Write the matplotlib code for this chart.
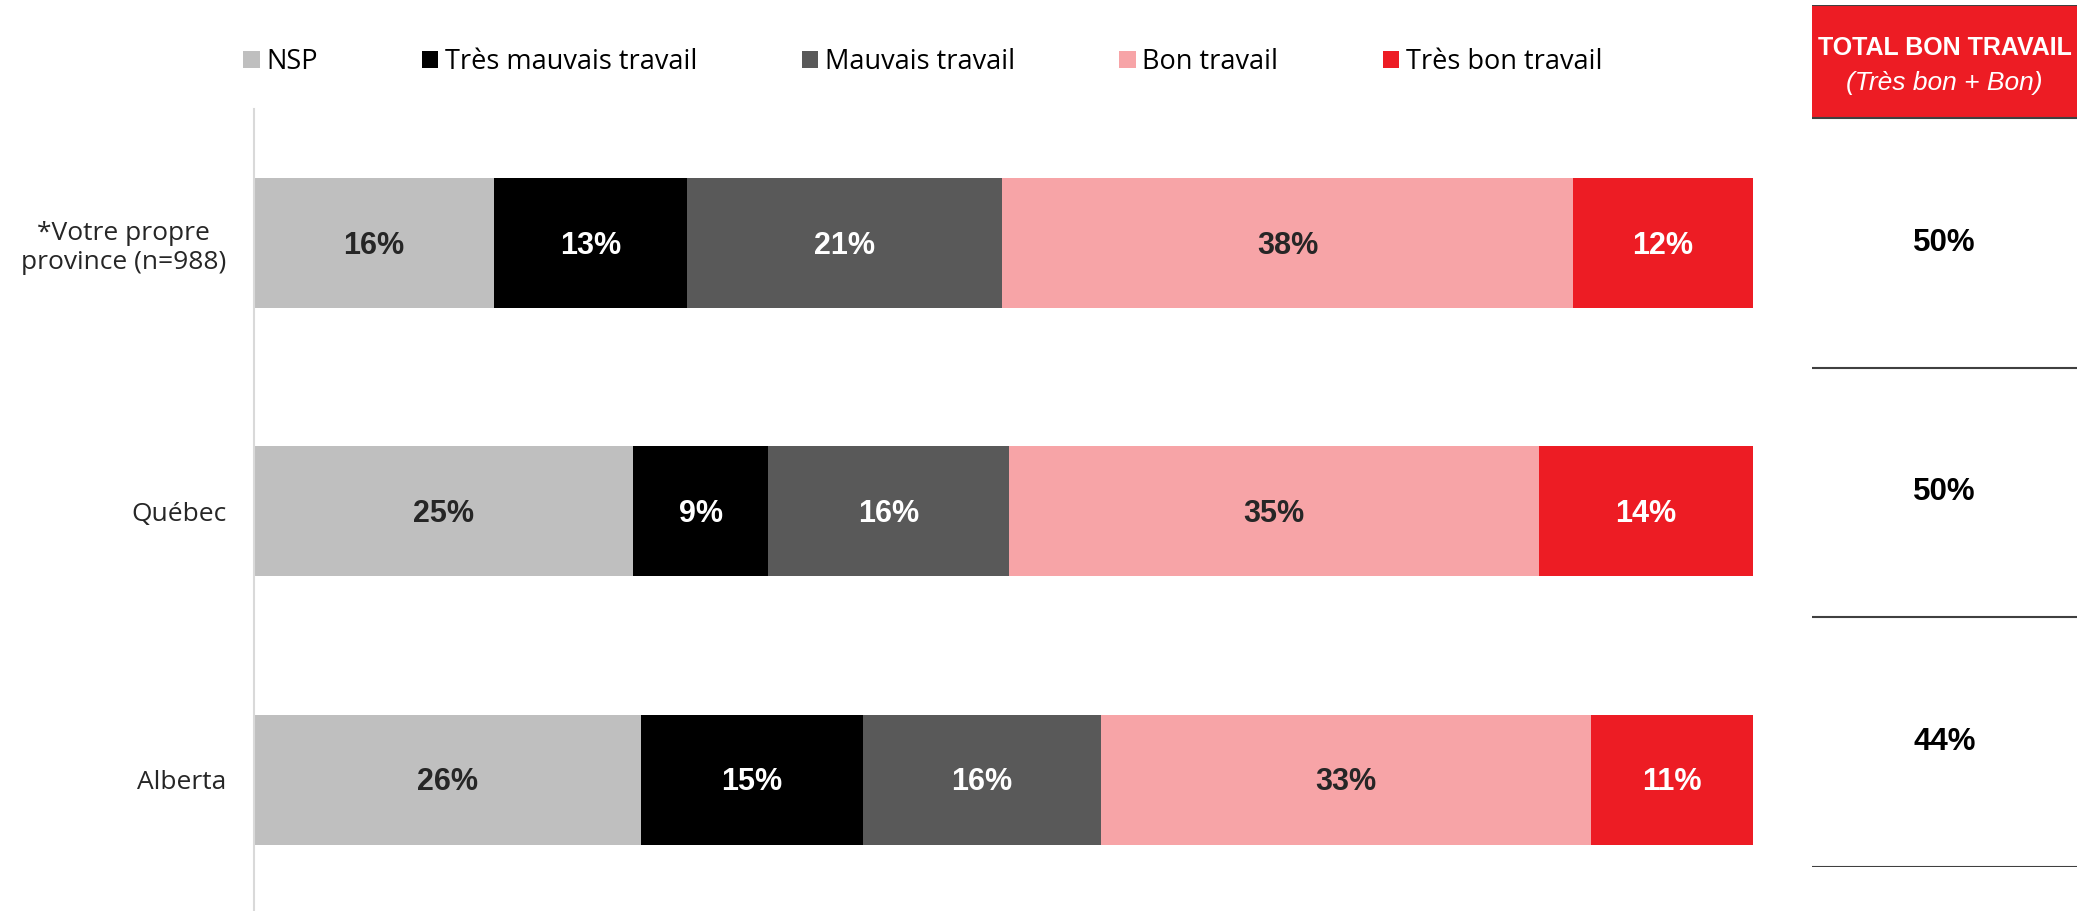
import matplotlib
matplotlib.use("Agg")
import matplotlib.pyplot as plt
from matplotlib.patches import Patch, Rectangle

categories = ["*Votre propre\nprovince (n=988)", "Québec", "Alberta"]
series_names = ["NSP", "Très mauvais travail", "Mauvais travail", "Bon travail", "Très bon travail"]
nsp = [16.0, 25.3, 25.8]
tres_mauvais = [12.9, 9.0, 14.8]
mauvais = [21.0, 16.1, 15.9]
bon = [38.1, 35.3, 32.7]
tres_bon = [12.0, 14.3, 10.8]
totals = [50, 50, 44]
total_header = "TOTAL BON TRAVAIL"
total_sub = "(Très bon + Bon)"

colors = ["#BFBFBF", "#000000", "#595959", "#F7A4A7", "#ED1C24"]
label_colors = ["#262626", "white", "white", "#262626", "white"]

W, H = 2082, 911
fig = plt.figure(figsize=(W / 100, H / 100), dpi=100)

ax = fig.add_axes([254 / W, 0, (1753 - 254) / W, 1 - 109 / H])
series = [nsp, tres_mauvais, mauvais, bon, tres_bon]
ypos = list(range(len(categories)))
left = [0.0] * len(categories)
handles = []
for name, vals, c, lc in zip(series_names, series, colors, label_colors):
    bars = ax.barh(ypos, vals, left=left, height=0.485, color=c, edgecolor="none")
    for b, v in zip(bars, vals):
        ax.text(b.get_x() + b.get_width() / 2, b.get_y() + b.get_height() / 2 + 0.01,
                f"{round(v):.0f}%", ha="center", va="center", color=lc,
                fontsize=22, fontweight="bold", family=["Liberation Sans", "DejaVu Sans"])
    left = [l + v for l, v in zip(left, vals)]
    handles.append(Patch(facecolor=c, edgecolor="none", label=name))

ax.set_xlim(0, 100)
ax.set_ylim(2.49, -0.5)
ax.set_yticks(ypos)
ax.set_yticklabels(categories, fontsize=19, family=["Open Sans", "DejaVu Sans"],
                   color="#262626", multialignment="center")
ax.tick_params(axis="y", length=0, pad=20)
ax.set_xticks([])
for s in ["top", "right", "bottom"]:
    ax.spines[s].set_visible(False)
ax.spines["left"].set_color("#D9D9D9")
ax.spines["left"].set_linewidth(1.5)

fig.legend(handles=handles, loc="center left", bbox_to_anchor=(219 / W, 1 - 62 / H),
           ncol=5, frameon=False, handlelength=0.6, handleheight=0.6,
           handletextpad=0.25, columnspacing=3.85,
           prop={"family": ["Open Sans", "DejaVu Sans"], "size": 19.5})

# totals column
tax = fig.add_axes([1812 / W, 1 - 867 / H, (2077 - 1812) / W, (867 - 5) / H])
tax.set_xlim(0, 1)
tax.set_ylim(3, -113 / 250)
tax.axis("off")
tax.add_patch(Rectangle((0, -113 / 250), 1, 113 / 250, facecolor="#ED1C24",
                        edgecolor="none"))
tax.plot([0, 1], [-113 / 250, -113 / 250], color="#404040", lw=1.5)
tax.plot([0, 1], [0, 0], color="#404040", lw=1.5)
tax.text(0.5, -113 / 250 * 0.62, total_header, ha="center", va="center", color="white",
         fontsize=18, fontweight="bold", family=["Liberation Sans", "DejaVu Sans"])
tax.text(0.5, -113 / 250 * 0.31, total_sub, ha="center", va="center", color="white",
         fontsize=19, style="italic", family=["Liberation Sans", "DejaVu Sans"])
for i, t in enumerate(totals):
    tax.text(0.5, i + 0.5, f"{t}%", ha="center", va="center", color="black",
             fontsize=22.5, fontweight="bold", family=["Liberation Sans", "DejaVu Sans"])
    tax.plot([0, 1], [i + 1, i + 1], color="#404040", lw=1.5)

fig.savefig("out.png", dpi=100)
